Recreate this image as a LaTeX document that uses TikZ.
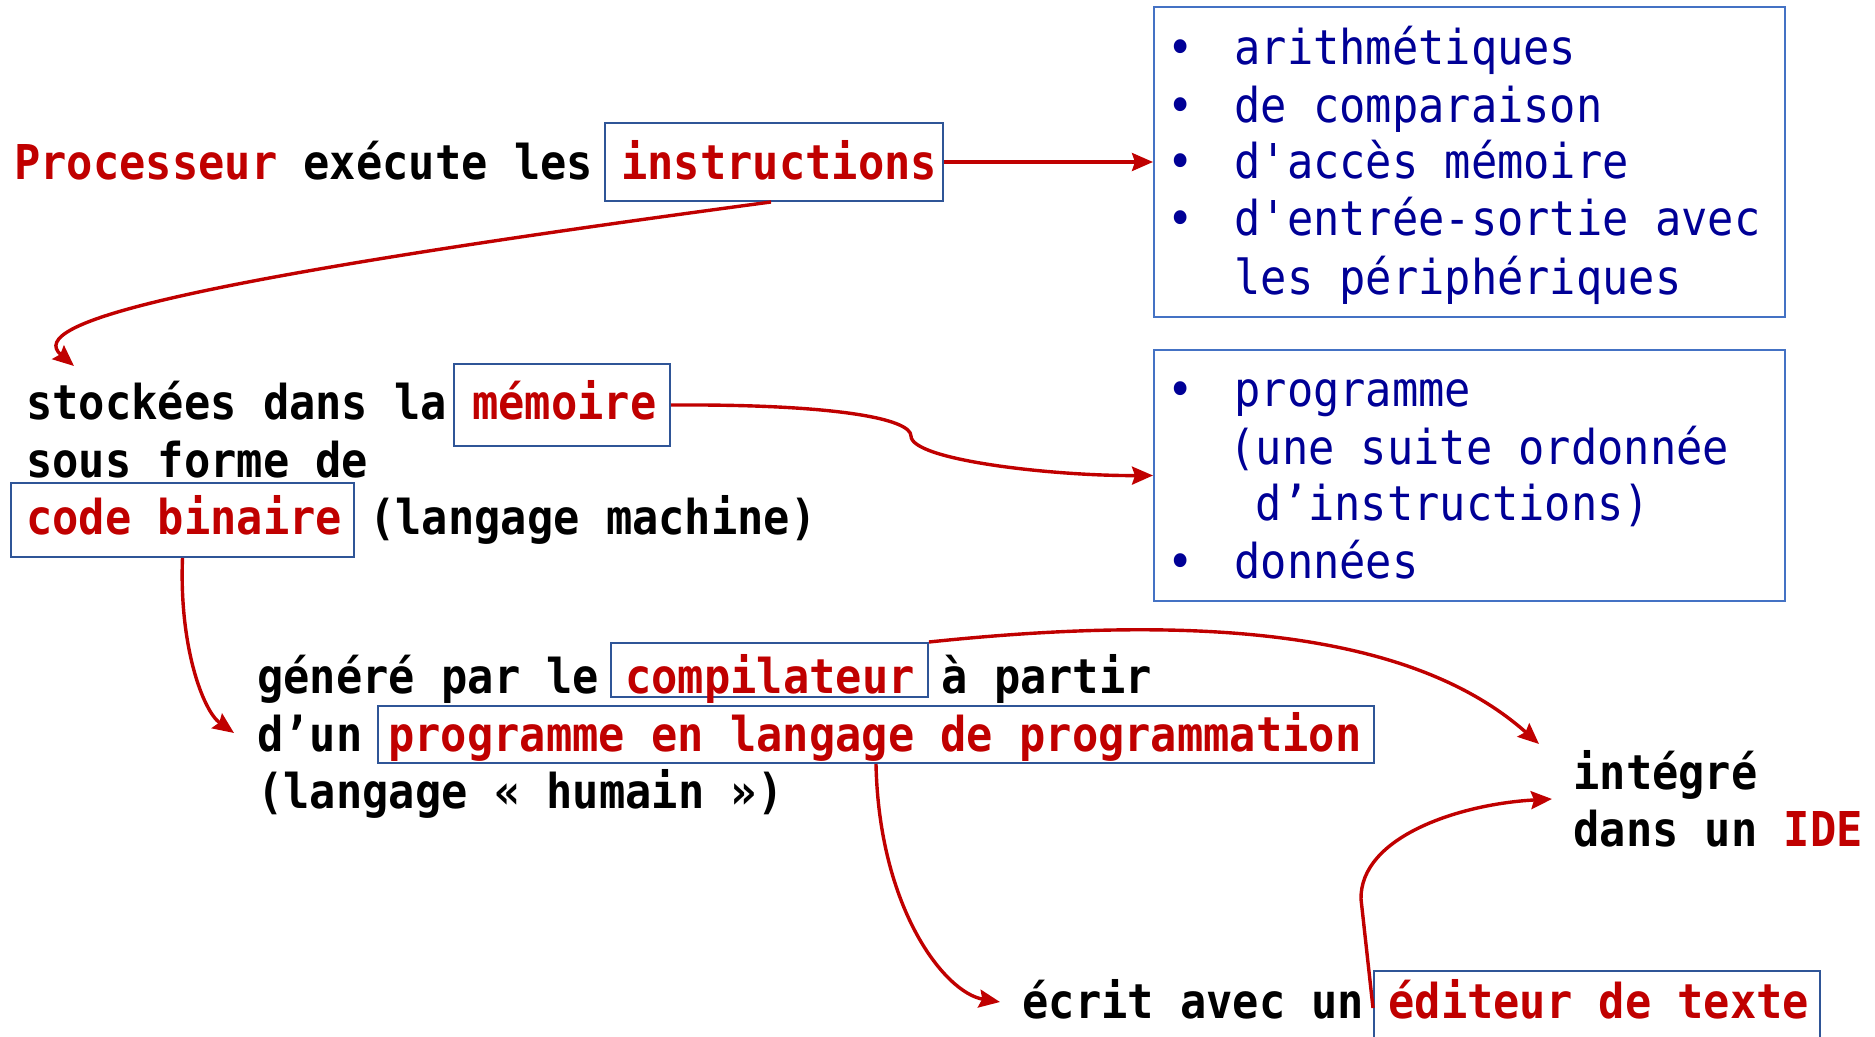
\documentclass[tikz,border=0pt]{standalone}
\usepackage{fontspec}
\newfontfamily\mono{DejaVu Sans Mono}[FakeStretch=0.91]
\usetikzlibrary{arrows.meta,fit}
\definecolor{rd}{HTML}{C00000}
\definecolor{bl}{HTML}{2F5597}
\definecolor{lb}{HTML}{4472C4}
\definecolor{nv}{HTML}{000096}
\begin{document}
\begin{tikzpicture}[x=0.5pt,y=-0.5pt,
 txt/.style={anchor=base west, inner sep=0pt, font=\mono\fontsize{24}{28}\selectfont\bfseries},
 rtxt/.style={txt, text=rd},
 btxt/.style={anchor=base west, inner sep=0pt, font=\mono\fontsize{24}{28}\selectfont, text=nv},
 bul/.style={anchor=base, inner sep=0pt, font=\mono\fontsize{24}{28}\selectfont, text=nv},
 box/.style={draw=bl, line width=1pt, inner sep=0pt},
 lbox/.style={draw=lb, line width=1pt, inner sep=0pt},
 arr/.style={draw=rd, line width=1.7pt, -{Stealth[length=10.5pt,width=9pt,inset=1.5pt]}}]
\useasboundingbox (0,0) rectangle (1875,1037);

% boxes
\node[box, fit={(605,123) (943,201)}] (instrbox) {};
\node[lbox, fit={(1154,7) (1785,317)}] (box1) {};
\node[box, fit={(454,364) (670,446)}] (membox) {};
\node[lbox, fit={(1154,350) (1785,601)}] (box2) {};
\node[box, fit={(11,483) (354,557)}] (codebox) {};
\node[box, fit={(611,643) (928,697)}] (compbox) {};
\node[box, fit={(378,706) (1374,763)}] (progbox) {};
\node[box, fit={(1374,971) (1820,1045)}] (edbox) {};

% line 1
\node[txt] (l1) at (14,180) {\textcolor{rd}{Processeur} exécute les};
\node[rtxt] (instr) at (621,180) {instructions};

% right box 1
\node[bul] (b11) at (1181,65) {•};
\node[btxt] (t11) at (1234,65) {arithmétiques};
\node[bul] (b12) at (1181,123) {•};
\node[btxt] (t12) at (1234,123) {de comparaison};
\node[bul] (b13) at (1181,179) {•};
\node[btxt] (t13) at (1234,179) {d'accès mémoire};
\node[bul] (b14) at (1181,236) {•};
\node[btxt] (t14) at (1234,236) {d'entrée-sortie avec};
\node[btxt] (t15) at (1234,295) {les périphériques};

% left block 2
\node[txt] (st) at (26,420) {stockées dans la};
\node[rtxt] (mem) at (472,420) {mémoire};
\node[txt] (sf) at (26,478) {sous forme de};
\node[rtxt] (code) at (26,535) {code binaire};
\node[txt] (lm) at (369,535) {(langage machine)};

% right box 2
\node[bul] (b21) at (1181,407) {•};
\node[btxt] (t21) at (1234,407) {programme};
\node[btxt] (t22) at (1229,465) {(une suite ordonnée};
\node[btxt] (t23) at (1229,521) {\ d’instructions)};
\node[bul] (b24) at (1181,579) {•};
\node[btxt] (t24) at (1234,579) {données};

% block 3
\node[txt] (gen) at (257,693) {généré par le};
\node[rtxt] (comp) at (625,693) {compilateur};
\node[txt] (ap) at (941,693) {à partir};
\node[txt] (dun) at (257,751) {d’un};
\node[rtxt] (prog) at (388,751) {programme en langage de programmation};
\node[txt] (hum) at (257,808) {(langage « humain »)};

% IDE
\node[txt] (integ) at (1573,789) {intégré};
\node[txt] (ide) at (1573,846) {dans un \textcolor{rd}{IDE}};

% editor
\node[txt] (ecr) at (1022,1018) {écrit avec un};
\node[rtxt] (ed) at (1388,1018) {éditeur de texte};

% free ends
\coordinate (e2) at (74,366);
\coordinate (e4) at (234,733);
\coordinate (e5) at (1539,744);
\coordinate (e6) at (1000,1002);
\coordinate (e7) at (1552,799);
\coordinate (k3) at (911,436);
\coordinate (k7) at (1361,899);

% connectors
\draw[arr] (instrbox.south) ++(-3,0) .. controls (179,281) and (24,323) .. (e2);
\draw[arr] (instrbox.east) -- (box1.west);
\draw[arr] (membox.east) .. controls (837,404) and (911,419) .. (k3)
  .. controls (911,460) and (1052,476) .. (box2.west);
\draw[arr] (codebox.south) .. controls (179,646) and (203,711) .. (e4);
\draw[arr] (compbox.north east) .. controls (1196,614) and (1411,630) .. (e5);
\draw[arr] (progbox.south) .. controls (879,909) and (945,993) .. (e6);
\draw[arr] (edbox.west) -- (k7) .. controls (1360,837) and (1459,804) .. (e7);
\end{tikzpicture}
\end{document}
